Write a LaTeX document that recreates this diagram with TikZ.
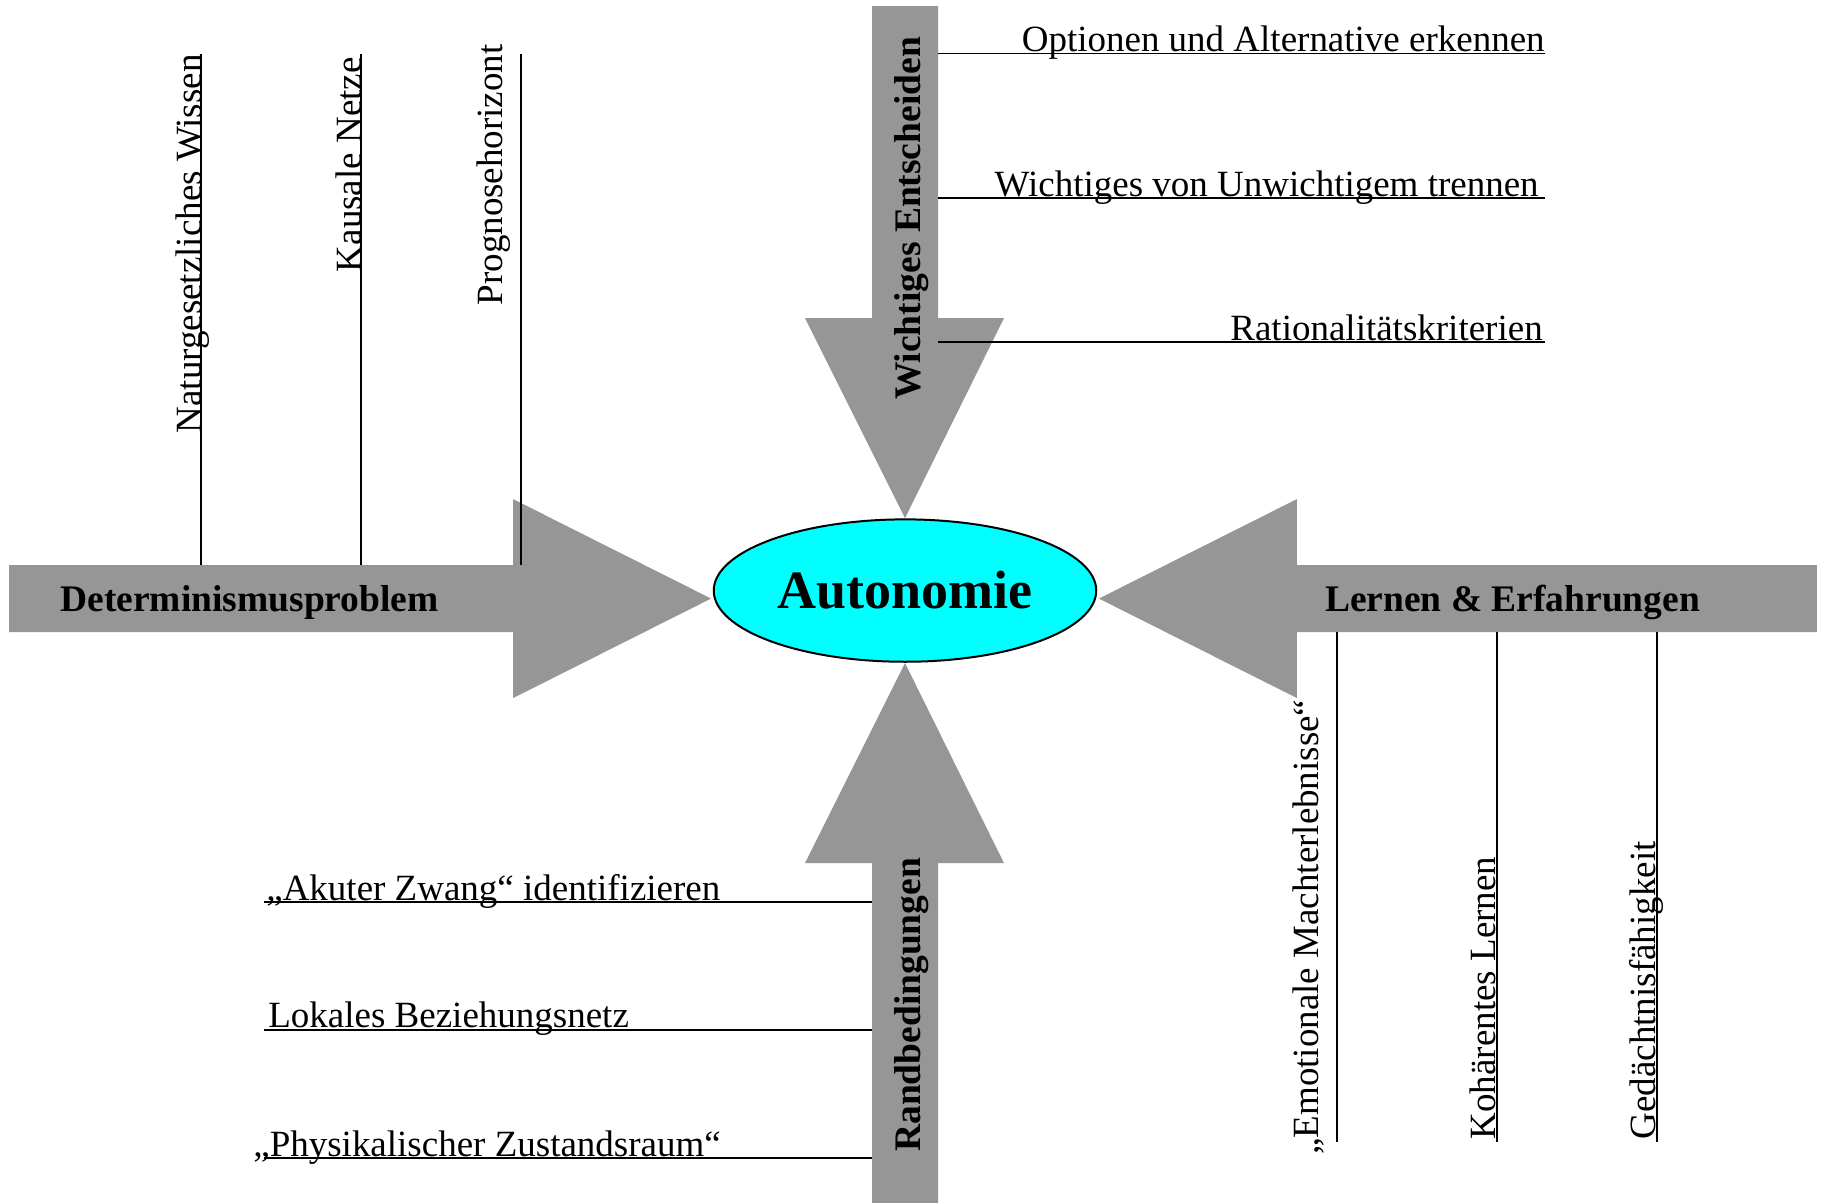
\documentclass[tikz,border=0pt]{standalone}
\usepackage{fontspec}
\setmainfont{Liberation Serif}
\usetikzlibrary{shapes.geometric}
\definecolor{arrowgray}{RGB}{150,150,150}
\definecolor{centrecyan}{RGB}{0,255,255}

\begin{document}
\begin{tikzpicture}[x=1pt,y=-1pt,
  lbl/.style={font=\fontsize{37}{44}\selectfont,inner sep=0pt},
  headlbl/.style={font=\fontsize{37.5}{44}\selectfont\bfseries,inner sep=0pt},
  leader/.style={line width=1.8pt},
  bigarrow/.style={fill=arrowgray}]
\filldraw[color=white] (0,0) rectangle (1821,1203);
% Drawing arrows
% Arrow 1: left, pointing right
\fill[bigarrow] (9,565) -- (513,565) -- (513,499) -- (711,598.5) -- (513,698) -- (513,632) -- (9,632) -- cycle;
% Arrow 2: right, pointing left
\fill[bigarrow] (1817,565) -- (1297,565) -- (1297,499) -- (1099,598.5) -- (1297,698) -- (1297,632) -- (1817,632) -- cycle;
% Arrow 3: top, pointing down
\fill[bigarrow] (872,6) -- (938,6) -- (938,318) -- (1004,318) -- (905,518) -- (805,318) -- (872,318) -- cycle;
% Arrow 4: bottom, pointing up
\fill[bigarrow] (872,1203) -- (938,1203) -- (938,863) -- (1004,863) -- (905,663) -- (805,863) -- (872,863) -- cycle;
% Done with arrows; drawing the centre
\node[ellipse,draw=black,line width=2pt,fill=centrecyan,minimum width=382.6pt,minimum height=142.4pt,inner sep=0pt,
  font=\fontsize{54}{60}\selectfont\bfseries] (auto) at (905,590.5) {Autonomie};
% Arrow labels
\node[headlbl,anchor=base west] (det) at (60,611.5) {Determinismusproblem};
\node[headlbl,anchor=base west] (lern) at (1325,611.5) {Lernen \& Erfahrungen};
\node[headlbl,rotate=90,anchor=base west] (wich) at (920,400) {Wichtiges Entscheiden};
\node[headlbl,rotate=90,anchor=base west] (rand) at (920,1152) {Randbedingungen};
% Done with arrow labels; drawing leader lines
% Line 1: Naturgesetzliches Wissen
\coordinate (natA) at (201,54);
\coordinate (natB) at (201,565);
\draw[leader] (natA) -- (natB);
\node[lbl,rotate=90,anchor=base east] (nat) at (natA) {Naturgesetzliches Wissen};
% Line 2: Kausale Netze
\coordinate (kauA) at (361,54);
\coordinate (kauB) at (361,565);
\draw[leader] (kauA) -- (kauB);
\node[lbl,rotate=90,anchor=base east] (kau) at (361,57) {Kausale Netze};
% Line 3: Prognosehorizont
\coordinate (proA) at (521,54);
\coordinate (proB) at (521,565);
\draw[leader] (proA) -- (proB);
\node[lbl,rotate=90,anchor=base east] (pro) at (502,44) {Prognosehorizont};
% Line 4: Optionen und Alternative erkennen
\coordinate (optA) at (938,53.3);
\coordinate (optB) at (1545,53.3);
\draw[leader] (optA) -- (optB);
\node[lbl,anchor=base east] (opt) at (1545,51.5) {Optionen und Alternative erkennen};
% Line 5: Wichtiges von Unwichtigem trennen
\coordinate (unwA) at (938,198);
\coordinate (unwB) at (1545,198);
\draw[leader] (unwA) -- (unwB);
\node[lbl,anchor=base east] (unw) at (1539,196) {Wichtiges von Unwichtigem trennen};
% Line 6: Rationalitaetskriterien
\coordinate (ratA) at (938,341.7);
\coordinate (ratB) at (1545,341.7);
\draw[leader] (ratA) -- (ratB);
\node[lbl,anchor=base east] (rat) at (1543,340) {Rationalitätskriterien};
% Line 7: Akuter Zwang
\coordinate (akuA) at (264,901.7);
\coordinate (akuB) at (872,901.7);
\draw[leader] (akuA) -- (akuB);
\node[lbl,anchor=base west] (aku) at (266,900) {„Akuter Zwang“ identifizieren};
% Line 8: Lokales Beziehungsnetz
\coordinate (lokA) at (264,1030);
\coordinate (lokB) at (872,1030);
\draw[leader] (lokA) -- (lokB);
\node[lbl,anchor=base west] (lok) at (268,1028) {Lokales Beziehungsnetz};
% Line 9: Physikalischer Zustandsraum
\coordinate (phyA) at (264,1158.3);
\coordinate (phyB) at (872,1158.3);
\draw[leader] (phyA) -- (phyB);
\node[lbl,anchor=base west] (phy) at (253,1157) {„Physikalischer Zustandsraum“};
% Line 10: Emotionale Machterlebnisse
\coordinate (emoA) at (1337,632);
\coordinate (emoB) at (1337,1142);
\draw[leader] (emoA) -- (emoB);
\node[lbl,rotate=90,anchor=base west] (emo) at (1319,1155) {„Emotionale Machterlebnisse“};
% Line 11: Kohaerentes Lernen
\coordinate (kohA) at (1497,632);
\coordinate (kohB) at (1497,1142);
\draw[leader] (kohA) -- (kohB);
\node[lbl,rotate=90,anchor=base west] (koh) at (1496,1139.5) {Kohärentes Lernen};
% Line 12: Gedaechtnisfaehigkeit
\coordinate (gedA) at (1657,632);
\coordinate (gedB) at (1657,1142);
\draw[leader] (gedA) -- (gedB);
\node[lbl,rotate=90,anchor=base west] (ged) at (1656,1139.5) {Gedächtnisfähigkeit};
% Done with leader lines
\end{tikzpicture}
\end{document}
